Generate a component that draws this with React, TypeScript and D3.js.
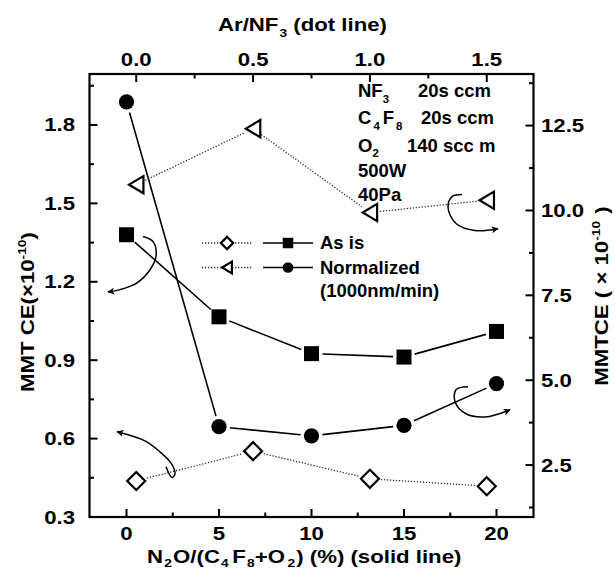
import React, { useEffect, useRef } from 'react';
import * as d3 from 'd3';

// solid lines: x = N2O/(C4F8+O2) (%)
const n2oRatio = [0, 5, 10, 15, 20];
const asIsByN2o = [1.38, 1.066, 0.925, 0.912, 1.01]; // left axis
const normByN2o = [13.2, 3.63, 3.36, 3.67, 4.9]; // right axis

// dotted lines: x = Ar/NF3
const arRatio = [0.0, 0.5, 1.0, 1.5];
const asIsByAr = [0.438, 0.552, 0.446, 0.418]; // left axis
const normByAr = [10.76, 12.41, 9.94, 10.3]; // right axis

const bottomTicks = [0, 5, 10, 15, 20];
const bottomMinor = [2.5, 7.5, 12.5, 17.5];
const topTicks = [0.0, 0.5, 1.0, 1.5];
const topMinor = [0.25, 0.75, 1.25];
const leftTicks = [0.3, 0.6, 0.9, 1.2, 1.5, 1.8];
const leftMinor = [0.45, 0.75, 1.05, 1.35, 1.65, 1.95];
const rightTicks = [2.5, 5.0, 7.5, 10.0, 12.5];
const rightMinor = [1.25, 3.75, 6.25, 8.75, 11.25, 13.75];

const legendRows = [
  { dotted: 'diamond', solid: 'square', label: ['As is'] },
  { dotted: 'triangle', solid: 'circle', label: ['Normalized', '(1000nm/min)'] },
];

type Part = { t: string; sub?: boolean; sup?: boolean; dx?: number };

const conditions: { gas: Part[]; value: string; vx: number }[] = [
  { gas: [{ t: 'NF' }, { t: '3', sub: true }], value: '20s ccm', vx: 418 },
  { gas: [{ t: 'C' }, { t: '4', sub: true, dx: 2 }, { t: 'F', dx: 3 }, { t: '8', sub: true, dx: 2 }], value: '20s ccm', vx: 421 },
  { gas: [{ t: 'O' }, { t: '2', sub: true }], value: '140 scc m', vx: 407 },
  { gas: [{ t: '500W' }], value: '', vx: 0 },
  { gas: [{ t: '40Pa' }], value: '', vx: 0 },
];

// curved arrows pointing each series to its axis, in (bottom x, left y) units
const arrowPaths: [number, number][][] = [
  [[0.89, 1.373], [1.43, 1.354], [1.6, 1.3], [1.27, 1.246], [0.57, 1.196], [-0.35, 1.17], [-1.0, 1.161]],
  [[2.135, 0.492], [2.46, 0.451], [2.62, 0.465], [2.4, 0.507], [1.81, 0.549], [1.0, 0.591], [-0.51, 0.626]],
  [[18.135, 1.534], [17.6, 1.526], [17.38, 1.484], [17.81, 1.423], [18.84, 1.396], [20.08, 1.403]],
  [[18.46, 0.798], [17.81, 0.787], [17.76, 0.741], [18.35, 0.695], [19.38, 0.683], [20.73, 0.71]],
];

const W = 615;
const H = 573;
const box = { left: 89.5, right: 533.5, top: 74, bottom: 517 };
const FONT = "'Liberation Sans', Arial, Helvetica, sans-serif";
const FS = 18.5;
const STRETCH = 1.2; // axis text in the original is drawn wider than plain Arial

function rich(text: any, parts: Part[], size: number, subShift = 0.32) {
  let shift = 0;
  parts.forEach(p => {
    const target = p.sub ? size * subShift : p.sup ? -size * 0.42 : 0;
    const ts = text.append('tspan')
      .attr('dy', target - shift)
      .style('font-size', `${p.sub || p.sup ? size * 0.62 : size}px`)
      .text(p.t);
    if (p.dx) ts.attr('dx', p.dx);
    shift = target;
  });
}

function drawMarker(g: any, kind: string, x: number, y: number, s: number) {
  if (kind === 'square') {
    g.append('rect').attr('x', x - 7.5 * s).attr('y', y - 7.5 * s)
      .attr('width', 15 * s).attr('height', 15 * s).attr('fill', '#000');
  } else if (kind === 'circle') {
    g.append('circle').attr('cx', x).attr('cy', y).attr('r', 7.6 * s).attr('fill', '#000');
  } else if (kind === 'diamond') {
    const r = 9 * s;
    g.append('path')
      .attr('d', `M${x},${y - r}L${x + r},${y}L${x},${y + r}L${x - r},${y}Z`)
      .attr('fill', '#fff').attr('stroke', '#000').attr('stroke-width', 2.2);
  } else {
    const w = 7.2 * s, h = 8.6 * s;
    g.append('path')
      .attr('d', `M${x - w},${y}L${x + w},${y - h}L${x + w},${y + h}Z`)
      .attr('fill', '#fff').attr('stroke', '#000').attr('stroke-width', 2.2).attr('stroke-linejoin', 'miter');
  }
}

const gapFor: Record<string, number> = { square: 11, circle: 11, diamond: 11, triangle: 10 };

const Chart = () => {
  const ref = useRef<SVGSVGElement>(null);

  useEffect(() => {
    const svg = d3.select(ref.current);
    svg.selectAll('*').remove();

    const xB = d3.scaleLinear().domain([-2, 22]).range([box.left, box.right]);
    const xT = d3.scaleLinear().domain([-0.2, 1.7]).range([box.left, box.right]);
    const yL = d3.scaleLinear().domain([0.3, 1.995]).range([box.bottom, box.top]);
    const yR = d3.scaleLinear().domain([0.97, 14.02]).range([box.bottom, box.top]);

    const defs = svg.append('defs');
    defs.append('marker')
      .attr('id', 'arrowHead')
      .attr('viewBox', '0 0 10 10')
      .attr('refX', 9).attr('refY', 5)
      .attr('markerUnits', 'userSpaceOnUse')
      .attr('markerWidth', 10).attr('markerHeight', 7)
      .attr('orient', 'auto')
      .append('path').attr('d', 'M0,0L10,5L0,10L2.5,5Z').attr('fill', '#000');

    const g = svg.append('g').style('font-family', FONT).style('font-weight', 'bold');

    // frame
    g.append('rect')
      .attr('x', box.left).attr('y', box.top)
      .attr('width', box.right - box.left).attr('height', box.bottom - box.top)
      .attr('fill', 'none').attr('stroke', '#000').attr('stroke-width', 2.2);

    // ticks (inward)
    const tick = (x1: number, y1: number, x2: number, y2: number) =>
      g.append('line').attr('x1', x1).attr('y1', y1).attr('x2', x2).attr('y2', y2)
        .attr('stroke', '#000').attr('stroke-width', 2);
    bottomTicks.forEach(v => tick(xB(v), box.bottom, xB(v), box.bottom - 8));
    bottomMinor.forEach(v => tick(xB(v), box.bottom, xB(v), box.bottom - 4.5));
    topTicks.forEach(v => tick(xT(v), box.top, xT(v), box.top + 8));
    topMinor.forEach(v => tick(xT(v), box.top, xT(v), box.top + 4.5));
    leftTicks.forEach(v => tick(box.left, yL(v), box.left + 8, yL(v)));
    leftMinor.forEach(v => tick(box.left, yL(v), box.left + 4.5, yL(v)));
    rightTicks.forEach(v => tick(box.right, yR(v), box.right - 8, yR(v)));
    rightMinor.forEach(v => tick(box.right, yR(v), box.right - 4.5, yR(v)));

    // stretched axis text
    const axisText = (x: number, y: number, anchor: string, rotate = 0) =>
      g.append('text')
        .attr('transform', `translate(${x},${y}) rotate(${rotate}) scale(${STRETCH},1)`)
        .attr('text-anchor', anchor)
        .style('font-size', `${FS}px`);

    bottomTicks.forEach(v => axisText(xB(v), 540, 'middle').text(d3.format('d')(v)));
    topTicks.forEach(v => axisText(xT(v), 66, 'middle').text(d3.format('.1f')(v)));
    leftTicks.forEach(v => axisText(75, yL(v) + 6.5, 'end').text(d3.format('.1f')(v)));
    rightTicks.forEach(v => axisText(541, yR(v) + 6.5, 'start').text(d3.format('.1f')(v)));

    // axis titles
    rich(axisText(147, 563, 'start'),
      [{ t: 'N' }, { t: '2', sub: true, dx: 1 }, { t: 'O/(C', dx: 1 }, { t: '4', sub: true, dx: 1 },
        { t: 'F', dx: 3 }, { t: '8', sub: true, dx: 1 }, { t: '+O' }, { t: '2', sub: true, dx: 2 },
        { t: ') (%) (solid line)', dx: 1 }], FS, 0.24);
    rich(axisText(218, 31, 'start'),
      [{ t: 'Ar/NF' }, { t: '3', sub: true, dx: 1 }, { t: '(dot line)', dx: 5 }], FS);
    rich(axisText(34, 312, 'middle', -90),
      [{ t: 'MMT CE(\u00d710' }, { t: '-10', sup: true }, { t: ')' }], FS);
    rich(axisText(608, 296, 'middle', -90),
      [{ t: 'MMTCE ( \u00d7 10' }, { t: '-10', sup: true }, { t: ')', dx: 6 }], FS);

    // connecting lines, stopped short of the markers
    const series = [
      { xs: n2oRatio, ys: asIsByN2o, x: xB, y: yL, kind: 'square', dotted: false },
      { xs: n2oRatio, ys: normByN2o, x: xB, y: yR, kind: 'circle', dotted: false },
      { xs: arRatio, ys: asIsByAr, x: xT, y: yL, kind: 'diamond', dotted: true },
      { xs: arRatio, ys: normByAr, x: xT, y: yR, kind: 'triangle', dotted: true },
    ];

    const segment = (p: number[], q: number[], gap: number, dotted: boolean) => {
      const dx = q[0] - p[0], dy = q[1] - p[1];
      const len = Math.hypot(dx, dy);
      if (len < gap * 2) return;
      const ux = dx / len, uy = dy / len;
      const ln = g.append('line')
        .attr('x1', p[0] + ux * gap).attr('y1', p[1] + uy * gap)
        .attr('x2', q[0] - ux * gap).attr('y2', q[1] - uy * gap)
        .attr('stroke', dotted ? '#333' : '#000')
        .attr('stroke-width', dotted ? 1.3 : 1.6);
      if (dotted) ln.attr('stroke-dasharray', '1.3,1.7');
    };

    series.forEach(s => {
      const pts = s.xs.map((v, i) => [s.x(v), s.y(s.ys[i])]);
      for (let i = 0; i < pts.length - 1; i++) segment(pts[i], pts[i + 1], gapFor[s.kind], s.dotted);
      pts.forEach(p => drawMarker(g, s.kind, p[0], p[1], 1));
    });

    // curved arrows
    const arrowLine = d3.line<[number, number]>()
      .x(d => xB(d[0])).y(d => yL(d[1]))
      .curve(d3.curveCatmullRom.alpha(0.5));
    arrowPaths.forEach(a => {
      g.append('path').attr('d', arrowLine(a)).attr('fill', 'none')
        .attr('stroke', '#000').attr('stroke-width', 1.5)
        .attr('marker-end', 'url(#arrowHead)');
    });

    // legend
    const lg = g.append('g').attr('transform', 'translate(202,243)');
    legendRows.forEach((row, i) => {
      const y = i * 24.5;
      lg.append('line').attr('x1', 0).attr('x2', 50).attr('y1', y).attr('y2', y)
        .attr('stroke', '#333').attr('stroke-width', 1.3).attr('stroke-dasharray', '1.3,1.7');
      drawMarker(lg, row.dotted, 25, y, 0.68);
      lg.append('line').attr('x1', 61).attr('x2', 111).attr('y1', y).attr('y2', y)
        .attr('stroke', '#000').attr('stroke-width', 1.6);
      drawMarker(lg, row.solid, 86, y, 0.7);
      row.label.forEach((t, j) => {
        lg.append('text').attr('x', 118).attr('y', y + 6 + j * 23.5)
          .style('font-size', `${FS}px`).text(t);
      });
    });

    // process conditions
    const cg = g.append('g');
    const rowY = [97, 124, 151.5, 177, 201];
    conditions.forEach((c, i) => {
      rich(cg.append('text').attr('x', 358).attr('y', rowY[i]), c.gas, FS);
      if (c.value) {
        cg.append('text').attr('x', c.vx).attr('y', rowY[i]).style('font-size', `${FS}px`).text(c.value);
      }
    });
  }, []);

  return (
    <svg ref={ref} width={W} height={H}
      style={{ position: 'absolute', left: 0, top: 0, background: '#fff' }} />
  );
};

export default function App() {
  return <Chart />;
}
